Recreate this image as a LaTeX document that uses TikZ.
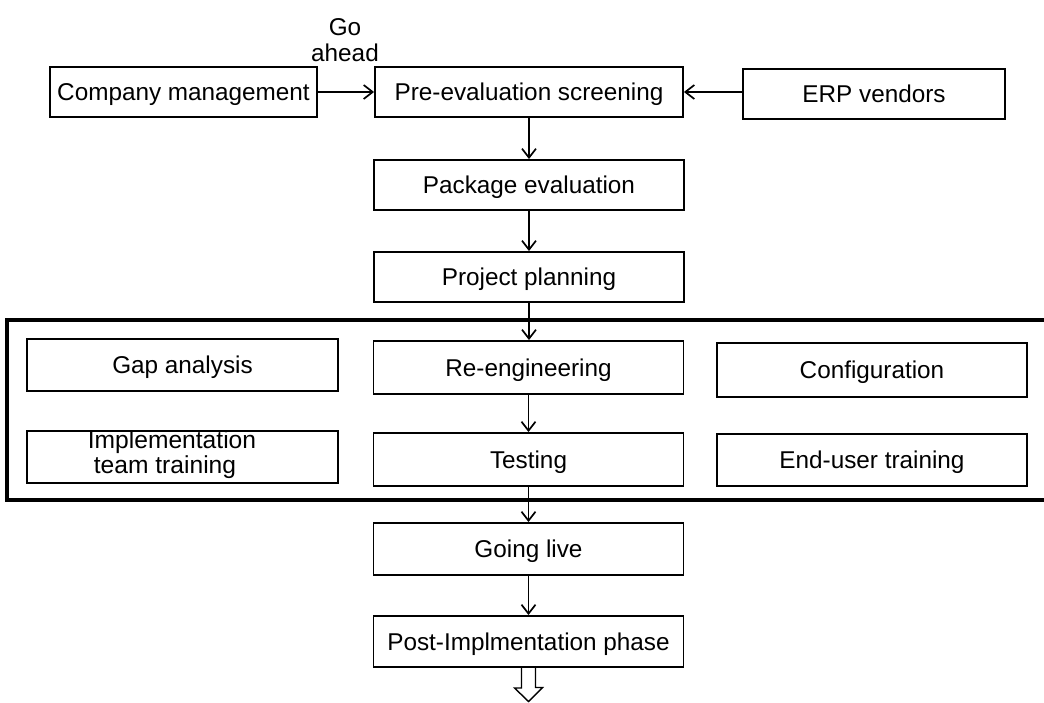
\documentclass[tikz,border=0pt]{standalone}
\usepackage{fontspec}
\setmainfont{Liberation Sans}
\usetikzlibrary{arrows.meta}
\begin{document}
\begin{tikzpicture}[x=1pt,y=-1pt,
  txt/.style={font=\fontsize{24.3}{25}\selectfont},
  box/.style={draw, line width=1.9pt, inner sep=0pt, minimum width=310pt, minimum height=51pt, txt, text height=17.5pt, text depth=0pt},
  arr/.style={line width=1.7pt, -{Straight Barb[length=9pt,width=14pt,line width=1.7pt]}},
  bigbox/.style={draw, line width=3.8pt, inner sep=0pt}
]
\useasboundingbox (0,0) rectangle (1044,703);
% top row
\node[box, minimum width=267pt, minimum height=50pt] (cm) at (183.5,92) {Company management};
\node[box, minimum width=308pt, minimum height=50pt] (pre) at (529,92) {Pre-evaluation screening};
\node[box, minimum width=262pt, minimum height=50pt] (erp) at (874,94) {ERP vendors};
\node[align=center, inner sep=0pt, font=\fontsize{24.3}{26}\selectfont] (go) at (345,40) {Go\\ahead};
% middle column
\node[box, minimum height=50pt] (pkg) at (529,185) {Package evaluation};
\node[box, minimum height=50pt] (plan) at (529,277) {Project planning};
% big phase box
\node[bigbox, minimum width=1043pt, minimum height=180pt] (phase) at (528.5,410) {};
\node[box, minimum width=311pt, minimum height=52pt] (gap) at (182.5,365) {Gap analysis};
\node[box, minimum height=53pt] (reeng) at (528.5,367.5) {Re-engineering};
\node[box, minimum height=54pt] (conf) at (872,370) {Configuration};
\node[box, minimum width=311pt, minimum height=52pt] (impl) at (182.5,457) {};
\node[align=left, inner sep=0pt, font=\fontsize{24.6}{25}\selectfont] (impltext) at (172,455) {Implementation\\\hspace*{6pt}team training};
\node[box, minimum height=53pt] (test) at (528.5,459.5) {Testing};
\node[box, minimum height=52pt] (eut) at (872,460) {End-user training};
% bottom
\node[box, minimum height=52pt] (live) at (528.5,549) {Going live};
\node[box, minimum height=51pt] (post) at (528.5,641.5) {Post-Implmentation phase};
\coordinate (tip) at (528.5,701.5);
% connectors
\draw[arr] (cm) -- (pre);
\draw[arr] (erp.west |- pre.east) -- (pre.east);
\draw[arr] (pre.south) -- (pkg.north);
\draw[arr] (pkg.south) -- (plan.north);
\draw[arr] (plan.south) -- (plan.south |- reeng.north);
\draw[arr] (reeng.south) -- (test.north);
\draw[arr] (test.south) -- (live.north);
\draw[arr] (live.south) -- (post.north);
\draw[line width=1.4pt, line join=miter] (post.south) ++(-7,0) -- ++(0,20) -- ++(-7,0) -- (tip) -- ++(14,-14) -- ++(-7,0) -- ++(0,-20);
\end{tikzpicture}
\end{document}
